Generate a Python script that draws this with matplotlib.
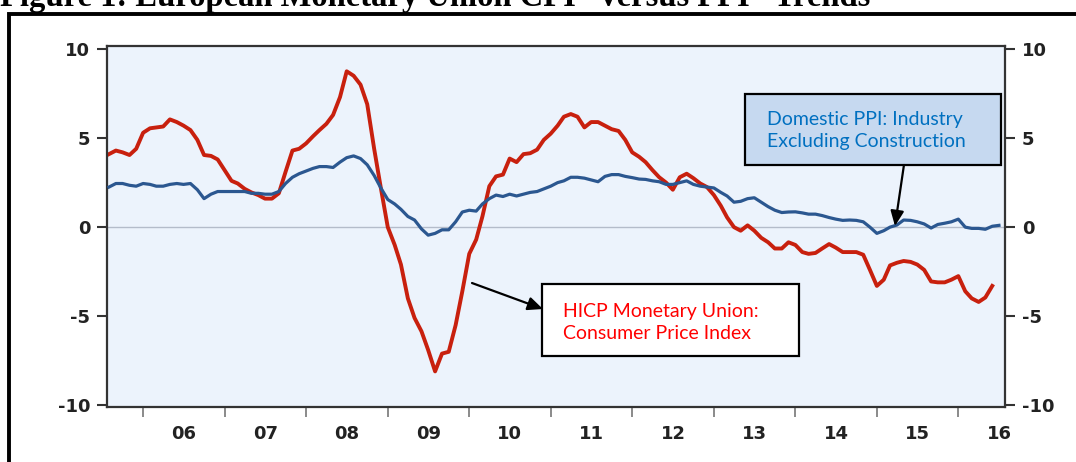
import matplotlib
matplotlib.use('Agg')
import matplotlib.pyplot as plt
import matplotlib.patches as mpatches
import pandas as pd

# Monthly year-over-year % change, Aug 2005 onwards
ppi_values = [
    2.25, 2.45, 2.45, 2.35, 2.3, 2.45, 2.4, 2.3, 2.3, 2.4, 2.45, 2.4,
    2.45, 2.1, 1.6, 1.85, 2.0, 2.0, 2.0, 2.0, 2.0, 1.9, 1.9, 1.85,
    1.85, 2.0, 2.45, 2.8, 3.0, 3.15, 3.3, 3.4, 3.4, 3.35, 3.65, 3.9,
    4.0, 3.85, 3.5, 2.9, 2.2, 1.55, 1.3, 1.0, 0.6, 0.4, -0.1, -0.45,
    -0.35, -0.15, -0.15, 0.3, 0.85, 0.95, 0.9, 1.3, 1.6, 1.8, 1.72, 1.85,
    1.75, 1.85, 1.95, 2.0, 2.15, 2.3, 2.5, 2.6, 2.8, 2.8, 2.75, 2.65,
    2.55, 2.85, 2.95, 2.95, 2.85, 2.78, 2.7, 2.68, 2.6, 2.55, 2.4, 2.4,
    2.5, 2.6, 2.4, 2.3, 2.25, 2.2, 1.95, 1.75, 1.4, 1.45, 1.6, 1.65,
    1.4, 1.15, 0.95, 0.82, 0.85, 0.86, 0.8, 0.73, 0.73, 0.65, 0.54, 0.45,
    0.38, 0.4, 0.38, 0.3, 0.0, -0.35, -0.2, 0.0, 0.12, 0.4, 0.38, 0.3,
    0.18, -0.05, 0.15, 0.22, 0.3, 0.45, 0.0, -0.07, -0.07, -0.12, 0.05, 0.1,
]
cpi_values = [
    4.1, 4.3, 4.2, 4.05, 4.4, 5.3, 5.55, 5.6, 5.65, 6.05, 5.9, 5.7,
    5.45, 4.9, 4.05, 4.0, 3.8, 3.2, 2.6, 2.45, 2.15, 1.95, 1.8, 1.6,
    1.6, 1.9, 3.1, 4.3, 4.4, 4.7, 5.1, 5.45, 5.8, 6.3, 7.3, 8.75,
    8.5, 8.0, 6.9, 4.4, 2.2, 0.0, -1.0, -2.1, -4.0, -5.1, -5.85, -6.9,
    -8.1, -7.1, -7.0, -5.5, -3.6, -1.5, -0.7, 0.6, 2.3, 2.85, 2.95, 3.85,
    3.65, 4.1, 4.15, 4.35, 4.9, 5.25, 5.7, 6.2, 6.35, 6.2, 5.6, 5.9,
    5.9, 5.7, 5.5, 5.4, 4.9, 4.2, 3.95, 3.65, 3.2, 2.8, 2.5, 2.1,
    2.8, 3.0, 2.75, 2.45, 2.25, 1.8, 1.2, 0.55, 0.0, -0.2, 0.1, -0.2,
    -0.6, -0.85, -1.2, -1.2, -0.85, -1.0, -1.4, -1.5, -1.45, -1.2, -0.95, -1.15,
    -1.4, -1.4, -1.4, -1.55, -2.4, -3.3, -2.95, -2.15, -2.0, -1.9, -1.95, -2.1,
    -2.4, -3.05, -3.1, -3.1, -2.95, -2.75, -3.6, -4.0, -4.2, -3.95, -3.3,
]
ppi_dates = pd.date_range('2005-08-01', periods=len(ppi_values), freq='MS')
cpi_dates = pd.date_range('2005-08-01', periods=len(cpi_values), freq='MS')

y_ticks = [-10, -5, 0, 5, 10]
year_labels = ['06', '07', '08', '09', '10', '11', '12', '13', '14', '15', '16']

plt.rcParams['font.family'] = ['DejaVu Sans']

fig = plt.figure(figsize=(10.76, 4.62), dpi=100)
ax = fig.add_axes([0.0994, 0.119, 0.8346, 0.7814])
ax.set_facecolor('#ECF3FC')

ax.axhline(0, color='#B4BCCA', linewidth=1.0, zorder=1)
ax.plot(ppi_dates, ppi_values, color='#2B5790', linewidth=2.3, zorder=3)
ax.plot(cpi_dates, cpi_values, color='#C8200E', linewidth=2.8, zorder=2)

ax.set_ylim(-10.1, 10.17)
ax.set_yticks(y_ticks)
ax.set_yticklabels([str(v) for v in y_ticks])
ax.yaxis.set_ticks_position('both')
ax.tick_params(axis='y', which='major', direction='out', length=7, width=1.5,
               color='#333333', pad=5, labelsize=13, labelleft=True, labelright=True,
               labelcolor='#222222')
for lbl in ax.get_yticklabels():
    lbl.set_fontweight('bold')

ax.set_xlim(pd.Timestamp('2005-07-23'), pd.Timestamp('2016-07-28'))
years = [pd.Timestamp(f'20{y}-01-01') for y in year_labels]
mids = [pd.Timestamp(f'20{y}-07-02') for y in year_labels]
ax.set_xticks(years)
ax.set_xticklabels([])
ax.set_xticks(mids, minor=True)
ax.set_xticklabels(year_labels, minor=True, fontweight='bold', fontsize=13,
                   color='#222222')
ax.tick_params(axis='x', which='major', direction='out', length=7, width=1.2,
               color='#777777')
ax.tick_params(axis='x', which='minor', length=0, pad=13)

for side in ['left', 'right', 'top', 'bottom']:
    ax.spines[side].set_color('#333333')
    ax.spines[side].set_linewidth(1.6)

# Callout boxes
ax.add_patch(mpatches.Rectangle((0.711, 0.670), 0.2844, 0.197, transform=ax.transAxes,
                                facecolor='#C6D9F0', edgecolor='black', linewidth=1.6,
                                zorder=5))
ax.text(0.735, 0.766, 'Domestic PPI: Industry\nExcluding Construction',
        transform=ax.transAxes, ha='left', va='center', fontsize=14,
        family=['Lato', 'DejaVu Sans'], color='#0070C0', linespacing=1.3, zorder=6)
ax.annotate('', xy=(0.8775, 0.5014), xytext=(0.8875, 0.6704), xycoords='axes fraction',
            arrowprops=dict(arrowstyle='-|>,head_length=0.9,head_width=0.4',
                            color='black', linewidth=1.6, shrinkA=0, shrinkB=0),
            zorder=6)

ax.add_patch(mpatches.Rectangle((0.4844, 0.1413), 0.2862, 0.1994, transform=ax.transAxes,
                                facecolor='white', edgecolor='black', linewidth=1.6,
                                zorder=5))
ax.text(0.5075, 0.234, 'HICP Monetary Union:\nConsumer Price Index',
        transform=ax.transAxes, ha='left', va='center', fontsize=14,
        family=['Lato', 'DejaVu Sans'], color='#FF0000', linespacing=1.3, zorder=6)
ax.annotate('', xy=(0.4855, 0.2715), xytext=(0.4065, 0.3435), xycoords='axes fraction',
            arrowprops=dict(arrowstyle='-|>,head_length=0.9,head_width=0.4',
                            color='black', linewidth=1.6, shrinkA=0, shrinkB=0),
            zorder=6)

# Page frame and (cropped, as in the source) figure title
fig.patches.append(mpatches.Rectangle((9 / 1076, -0.2), 1.5, 1.2 - 13.5 / 462,
                                      transform=fig.transFigure, fill=False,
                                      edgecolor='black', linewidth=2.8))
fig.text(0.0, 1 - 6 / 462, 'Figure 1: European Monetary Union CPI* versus PPI* Trends',
         ha='left', va='baseline', fontsize=23.5, fontweight='bold',
         family=['Liberation Serif', 'DejaVu Serif'])

fig.savefig('out.png', dpi=100)
